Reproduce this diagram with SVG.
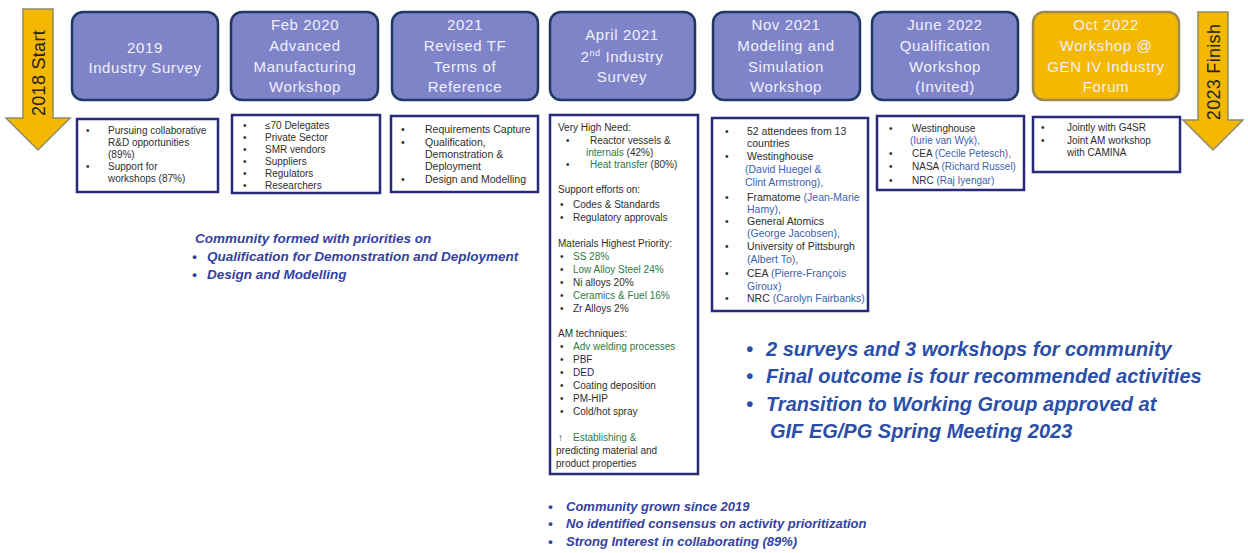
<svg xmlns="http://www.w3.org/2000/svg" width="1248" height="553" viewBox="0 0 1248 553">
  <style>
    .card { fill: #7f83c8; stroke: #203864; stroke-width: 2.5; }
    .card-gold { fill: #f5b800; stroke: #9c8a52; stroke-width: 2.5; }
    .title { font-family: "Liberation Sans", Arial, sans-serif; font-size: 15px; fill: #f0f0fb; text-anchor: middle; letter-spacing: 0.6px; }
    .list { fill: #ffffff; stroke: #29297a; stroke-width: 2.5; }
    .t { font-family: "Liberation Sans", Arial, sans-serif; font-size: 10px; fill: #2e2e2e; }
    .t105 { font-size: 10.5px; }
    .blue { fill: #3b5fb0; }
    .green { fill: #2f7a45; }
    .arrow { fill: #f5b800; stroke: #8f8a6a; stroke-width: 1.5; }
    .arrow-label { font-family: "Liberation Sans", Arial, sans-serif; font-size: 18px; fill: #222222; text-anchor: middle; letter-spacing: 0.3px; }
    .note { font-family: "Liberation Sans", Arial, sans-serif; font-weight: bold; font-style: italic; fill: #3342a0; }
    .note-big { font-family: "Liberation Sans", Arial, sans-serif; font-weight: bold; font-style: italic; font-size: 20px; fill: #2b4fa6; }
  </style>

  <rect width="1248" height="553" fill="#ffffff"/>

  <!-- start marker -->
  <g id="start">
    <path class="arrow" d="M23 9 H53 V118 H70 L38 150 L6 118 H23 Z"/>
    <text class="arrow-label" transform="translate(44.5 73) rotate(-90)">2018 Start</text>
  </g>

  <!-- finish marker -->
  <g id="finish">
    <path class="arrow" d="M1198 12 H1228 V120 H1243 L1213 150 L1183 120 H1198 Z"/>
    <text class="arrow-label" transform="translate(1219.5 72) rotate(-90)">2023 Finish</text>
  </g>

  <!-- 2019 survey -->
  <g id="survey-2019">
    <rect class="card" x="72" y="12" width="146" height="88" rx="11"/>
    <text class="title" x="145" y="53">2019</text>
    <text class="title" x="145" y="73">Industry Survey</text>
    <rect class="list" x="77" y="119" width="141" height="73"/>
    <text class="t"><tspan x="86" y="133.5">•</tspan><tspan x="108" y="133.5">Pursuing collaborative</tspan></text>
    <text class="t" x="108" y="145.5">R&amp;D opportunities</text>
    <text class="t" x="108" y="157.5">(89%)</text>
    <text class="t"><tspan x="86" y="169.5">•</tspan><tspan x="108" y="169.5">Support for</tspan></text>
    <text class="t" x="108" y="181.5">workshops (87%)</text>
  </g>

  <!-- Feb 2020 workshop -->
  <g id="workshop-2020">
    <rect class="card" x="231" y="12" width="147" height="88" rx="11"/>
    <text class="title" x="305" y="30">Feb 2020</text>
    <text class="title" x="305" y="51">Advanced</text>
    <text class="title" x="305" y="72">Manufacturing</text>
    <text class="title" x="305" y="92">Workshop</text>
    <rect class="list" x="232" y="115" width="148" height="78"/>
    <g class="t">
      <text x="243" y="128.5">•</text><text x="265" y="128.5">≤70 Delegates</text>
      <text x="243" y="140.5">•</text><text x="265" y="140.5">Private Sector</text>
      <text x="243" y="152.5">•</text><text x="265" y="152.5">SMR vendors</text>
      <text x="243" y="164.5">•</text><text x="265" y="164.5">Suppliers</text>
      <text x="243" y="176.5">•</text><text x="265" y="176.5">Regulators</text>
      <text x="243" y="188.5">•</text><text x="265" y="188.5">Researchers</text>
    </g>
  </g>

  <!-- 2021 terms of reference -->
  <g id="terms-2021">
    <rect class="card" x="392" y="12" width="146" height="88" rx="11"/>
    <text class="title" x="465" y="30">2021</text>
    <text class="title" x="465" y="51">Revised TF</text>
    <text class="title" x="465" y="72">Terms of</text>
    <text class="title" x="465" y="92">Reference</text>
    <rect class="list" x="391" y="116" width="147" height="76"/>
    <g class="t t105">
      <text x="401" y="133">•</text><text x="425" y="133">Requirements Capture</text>
      <text x="401" y="146">•</text><text x="425" y="146">Qualification,</text>
      <text x="425" y="158">Demonstration &amp;</text>
      <text x="425" y="170">Deployment</text>
      <text x="401" y="183">•</text><text x="425" y="183">Design and Modelling</text>
    </g>
  </g>

  <!-- April 2021 second survey -->
  <g id="survey-2021">
    <rect class="card" x="550" y="12" width="145" height="88" rx="11"/>
    <text class="title" x="622" y="40">April 2021</text>
    <text class="title" x="622" y="62">2<tspan font-size="9" dy="-6">nd</tspan><tspan dy="6"> Industry</tspan></text>
    <text class="title" x="622" y="82">Survey</text>
    <rect class="list" x="550" y="115" width="148" height="359"/>
    <g class="t">
      <text x="558" y="130.5">Very High Need:</text>
      <text x="566" y="143.5">•</text><text x="590" y="143.5">Reactor vessels &amp;</text>
      <text x="586" y="155.5"><tspan class="green">internals</tspan> (42%)</text>
      <text x="566" y="167.5">•</text><text x="590" y="167.5"><tspan class="green">Heat transfer</tspan> (80%)</text>
      <text x="558" y="192.5">Support efforts on:</text>
      <text x="560" y="207.5">•</text><text x="573" y="207.5">Codes &amp; Standards</text>
      <text x="560" y="220.5">•</text><text x="573" y="220.5">Regulatory approvals</text>
      <text x="558" y="246.5">Materials Highest Priority:</text>
      <text x="560" y="259.5">•</text><text class="green" x="573" y="259.5">SS 28%</text>
      <text x="560" y="272.5">•</text><text class="green" x="573" y="272.5">Low Alloy Steel 24%</text>
      <text x="560" y="285.5">•</text><text x="573" y="285.5">Ni alloys 20%</text>
      <text x="560" y="298.5">•</text><text class="green" x="573" y="298.5">Ceramics &amp; Fuel 16%</text>
      <text x="560" y="311.5">•</text><text x="573" y="311.5">Zr Alloys 2%</text>
      <text x="558" y="336.5">AM techniques:</text>
      <text x="560" y="349.5">•</text><text class="green" x="573" y="349.5">Adv welding processes</text>
      <text x="560" y="362.5">•</text><text x="573" y="362.5">PBF</text>
      <text x="560" y="375.5">•</text><text x="573" y="375.5">DED</text>
      <text x="560" y="388.5">•</text><text x="573" y="388.5">Coating deposition</text>
      <text x="560" y="401.5">•</text><text x="573" y="401.5">PM-HIP</text>
      <text x="560" y="414.5">•</text><text x="573" y="414.5">Cold/hot spray</text>
      <text x="558" y="440.5">↑</text><text class="green" x="573" y="440.5">Establishing &amp;</text>
      <text x="556" y="453.5">predicting material and</text>
      <text x="556" y="466.5">product properties</text>
    </g>
  </g>

  <!-- Nov 2021 modelling workshop -->
  <g id="workshop-2021">
    <rect class="card" x="713" y="12" width="147" height="88" rx="11"/>
    <text class="title" x="786" y="30">Nov 2021</text>
    <text class="title" x="786" y="51">Modeling and</text>
    <text class="title" x="786" y="72">Simulation</text>
    <text class="title" x="786" y="92">Workshop</text>
    <rect class="list" x="712" y="118" width="156" height="193"/>
    <g class="t t105">
      <text x="725" y="134.5">•</text><text x="747" y="134.5">52 attendees from 13</text>
      <text x="747" y="146.5">countries</text>
      <text x="725" y="159.5">•</text><text x="747" y="159.5">Westinghouse</text>
      <text class="blue" x="745" y="172.5">(David  Huegel &amp;</text>
      <text class="blue" x="745" y="185.5">Clint Armstrong),</text>
      <text x="725" y="200.5">•</text><text x="747" y="200.5">Framatome <tspan class="blue">(Jean-Marie</tspan></text>
      <text class="blue" x="747" y="212.5">Hamy),</text>
      <text x="725" y="224.5">•</text><text x="747" y="224.5">General Atomics</text>
      <text class="blue" x="747" y="236.5">(George Jacobsen),</text>
      <text x="725" y="249.5">•</text><text x="747" y="249.5">University of Pittsburgh</text>
      <text class="blue" x="747" y="262.5">(Albert To),</text>
      <text x="725" y="276.5">•</text><text x="747" y="276.5">CEA <tspan class="blue">(Pierre-François</tspan></text>
      <text class="blue" x="747" y="289.5">Giroux)</text>
      <text x="725" y="301.5">•</text><text x="747" y="301.5">NRC <tspan class="blue">(Carolyn Fairbanks)</tspan></text>
    </g>
  </g>

  <!-- June 2022 qualification workshop -->
  <g id="workshop-2022">
    <rect class="card" x="872" y="12" width="146" height="88" rx="11"/>
    <text class="title" x="945" y="30">June 2022</text>
    <text class="title" x="945" y="51">Qualification</text>
    <text class="title" x="945" y="72">Workshop</text>
    <text class="title" x="945" y="92">(Invited)</text>
    <rect class="list" x="877" y="116" width="147" height="74"/>
    <g class="t">
      <text x="889" y="131.5">•</text><text x="912" y="131.5">Westinghouse</text>
      <text class="blue" x="910" y="143.5">(Iurie van Wyk),</text>
      <text x="889" y="156.5">•</text><text x="912" y="156.5">CEA <tspan class="blue">(Cecile Petesch),</tspan></text>
      <text x="889" y="169.5">•</text><text x="912" y="169.5">NASA <tspan class="blue">(Richard Russel)</tspan></text>
      <text x="889" y="183.5">•</text><text x="912" y="183.5">NRC <tspan class="blue">(Raj Iyengar)</tspan></text>
    </g>
  </g>

  <!-- Oct 2022 GEN IV forum workshop -->
  <g id="forum-2022">
    <rect class="card-gold" x="1033" y="12" width="146" height="88" rx="11"/>
    <text class="title" x="1106" y="30">Oct 2022</text>
    <text class="title" x="1106" y="51">Workshop @</text>
    <text class="title" x="1106" y="72">GEN IV Industry</text>
    <text class="title" x="1106" y="92">Forum</text>
    <rect class="list" x="1033" y="117" width="147" height="55"/>
    <g class="t">
      <text x="1041" y="130.5">•</text><text x="1067" y="130.5">Jointly with G4SR</text>
      <text x="1041" y="143.5">•</text><text x="1067" y="143.5">Joint AM workshop</text>
      <text x="1067" y="155.5">with CAMINA</text>
    </g>
  </g>

  <!-- summary after the first survey and workshop -->
  <g id="note-community" class="note" font-size="13.5">
    <text x="195" y="243">Community formed with priorities on</text>
    <text x="192" y="261">•</text><text x="207" y="261">Qualification for Demonstration and Deployment</text>
    <text x="192" y="279">•</text><text x="207" y="279">Design and Modelling</text>
  </g>

  <!-- summary of the second survey -->
  <g id="note-survey" class="note" font-size="13">
    <text x="548" y="511">•</text><text x="566" y="511">Community grown since 2019</text>
    <text x="548" y="528">•</text><text x="566" y="528">No identified consensus on activity prioritization</text>
    <text x="548" y="546">•</text><text x="566" y="546">Strong Interest in collaborating (89%)</text>
  </g>

  <!-- overall outcome -->
  <g id="note-outcome" class="note-big">
    <text x="746" y="356">•</text><text x="766" y="356">2 surveys and 3 workshops for community</text>
    <text x="746" y="383">•</text><text x="766" y="383">Final outcome is four recommended activities</text>
    <text x="746" y="411">•</text><text x="766" y="411">Transition to Working Group approved at</text>
    <text x="770" y="438">GIF EG/PG Spring Meeting 2023</text>
  </g>
</svg>
